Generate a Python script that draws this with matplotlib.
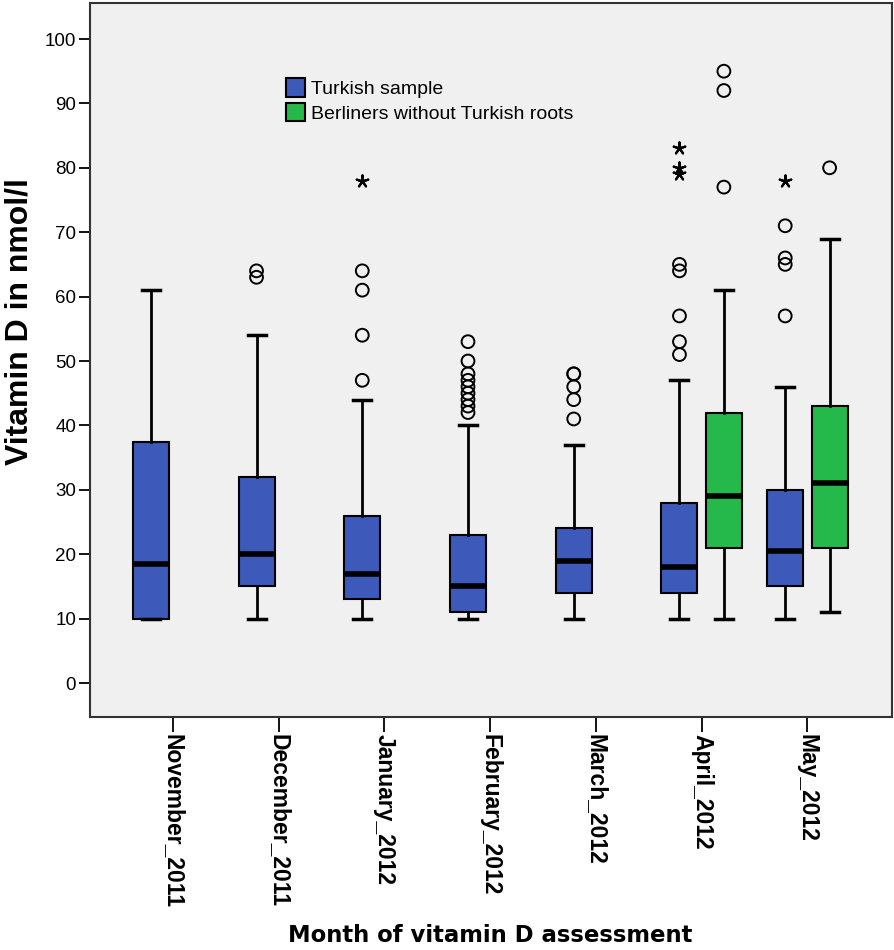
import matplotlib
matplotlib.use("Agg")
import matplotlib.pyplot as plt
from matplotlib.patches import Patch
from matplotlib import font_manager

months = ["November_2011", "December_2011", "January_2012", "February_2012",
          "March_2012", "April_2012", "May_2012"]

# Turkish sample: whislo, q1, median, q3, whishi
tr_whislo = [10, 10, 10, 10, 10, 10, 10]
tr_q1 = [10, 15, 13, 11, 14, 14, 15]
tr_med = [18.5, 20, 17, 15, 19, 18, 20.5]
tr_q3 = [37.5, 32, 26, 23, 24, 28, 30]
tr_whishi = [61, 54, 44, 40, 37, 47, 46]
tr_circles = [[], [63, 64], [47, 54, 61, 64], [42, 43, 44, 45, 46, 47, 48, 50, 53],
              [41, 44, 46, 48, 48], [51, 53, 57, 64, 65], [57, 65, 66, 71]]
tr_stars = [[], [], [78], [], [], [79, 80, 83], [78]]

# Berliners without Turkish roots (April, May only)
be_idx = [5, 6]
be_whislo = [10, 11]
be_q1 = [21, 21]
be_med = [29, 31]
be_q3 = [42, 43]
be_whishi = [61, 69]
be_circles = [[77, 92, 95], [80]]
be_stars = [[], []]

blue = "#3D59B9"
green = "#24B94A"

avail = {f.name for f in font_manager.fontManager.ttflist}
narrow = "Liberation Sans Narrow" if "Liberation Sans Narrow" in avail else "Liberation Sans"

fig = plt.figure(figsize=(8.94, 9.5), dpi=100)
ax = fig.add_axes([90/894, 1-717/950, (892-90)/894, (717-3)/950])
ax.set_facecolor("#F0F0F0")

off = 0.21
w = 0.34

def stats(wl, q1, med, q3, wh):
    return dict(whislo=wl, q1=q1, med=med, q3=q3, whishi=wh, fliers=[])

tr_stats = [stats(*v) for v in zip(tr_whislo, tr_q1, tr_med, tr_q3, tr_whishi)]
be_stats = [stats(*v) for v in zip(be_whislo, be_q1, be_med, be_q3, be_whishi)]

common = dict(widths=w, patch_artist=True, showfliers=False,
              medianprops=dict(color="black", linewidth=4),
              whiskerprops=dict(color="black", linewidth=2),
              capprops=dict(color="black", linewidth=2.5),
              boxprops=dict(edgecolor="black", linewidth=1.5))

tr_pos = [i - off for i in range(len(months))]
be_pos = [i + off for i in be_idx]
b1 = ax.bxp(tr_stats, positions=tr_pos, **common)
for p in b1["boxes"]:
    p.set_facecolor(blue)
b2 = ax.bxp(be_stats, positions=be_pos, **common)
for p in b2["boxes"]:
    p.set_facecolor(green)
for c in b1["caps"] + b2["caps"]:
    x0, x1 = c.get_xdata()
    m = (x0 + x1) / 2
    c.set_xdata([m - w/4, m + w/4])

for pos, cs, ss in zip(tr_pos, tr_circles, tr_stars):
    ax.scatter([pos]*len(cs), cs, s=85, facecolors="none", edgecolors="black", linewidths=1.4, zorder=5)
    ax.scatter([pos]*len(ss), ss, s=75, marker=(5, 2, 0), color="black", linewidths=1.6, zorder=5)
for pos, cs, ss in zip(be_pos, be_circles, be_stars):
    ax.scatter([pos]*len(cs), cs, s=85, facecolors="none", edgecolors="black", linewidths=1.4, zorder=5)

ax.set_ylim((683-717)/6.44, (683-3)/6.44)
ax.set_xlim(-0.785, 6.8)
ax.set_yticks(range(0, 101, 10))
ax.set_yticklabels([str(v) for v in range(0, 101, 10)], fontsize=13.5, family="Liberation Sans")
ax.set_xticks(range(len(months)))
ax.set_xticklabels(months, rotation=-90, fontsize=16.5, fontweight="bold", family=narrow,
                   va="top", ha="center")
ax.tick_params(axis="y", length=8, width=1.3, color="black", pad=2)
ax.tick_params(axis="x", length=11, width=1.3, color="black", pad=1)
for s in ax.spines.values():
    s.set_linewidth(1.5)
    s.set_color("#333333")

fig.text(20/894, 1-322/950, "Vitamin D in nmol/l", fontsize=23, fontweight="bold", family=narrow,
         rotation=90, ha="center", va="center")
fig.text(490/894, 1-935/950, "Month of vitamin D assessment", fontsize=16.4, fontweight="bold",
         family="DejaVu Sans", ha="center", va="center")

handles = [Patch(facecolor=blue, edgecolor="black", linewidth=1.5, label="Turkish sample"),
           Patch(facecolor=green, edgecolor="black", linewidth=1.5, label="Berliners without Turkish roots")]
leg = ax.legend(handles=handles, loc="upper left", bbox_to_anchor=((286-90)/802, 1-(78-3)/714),
                frameon=False, prop=dict(family="Liberation Sans", size=14),
                handlelength=1.0, handleheight=1.1, handletextpad=0.3, labelspacing=0.25,
                borderaxespad=0, borderpad=0)

fig.savefig("out.png", dpi=100)
